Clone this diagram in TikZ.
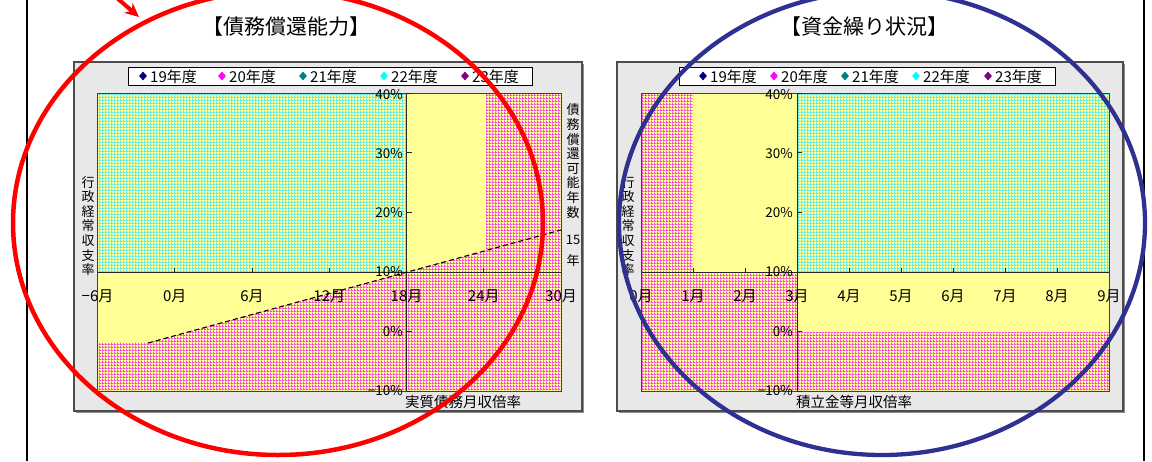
\documentclass[tikz,border=0pt]{standalone}
\usepackage{fontspec}
\newfontfamily\jp{Noto Sans CJK JP}
\usetikzlibrary{arrows.meta,shapes.geometric,patterns.meta}
\definecolor{chartyellow}{RGB}{255,255,150}
\definecolor{gridpink}{RGB}{242,70,222}
\definecolor{gridcyan}{RGB}{85,232,238}
\definecolor{boxgray}{RGB}{232,232,232}
\definecolor{circblue}{RGB}{46,49,146}
\definecolor{lgA}{RGB}{0,0,128}
\definecolor{lgB}{RGB}{255,0,255}
\definecolor{lgC}{RGB}{0,128,128}
\definecolor{lgD}{RGB}{0,255,255}
\definecolor{lgE}{RGB}{128,0,128}
\tikzdeclarepattern{
  name=chartgrid,
  type=uncolored,
  bounding box={(0pt,0pt) and (3pt,3pt)},
  tile size={(3pt,3pt)},
  code={
    \pgfpathrectangle{\pgfpoint{0pt}{0pt}}{\pgfpoint{3pt}{1pt}}
    \pgfpathrectangle{\pgfpoint{0pt}{1pt}}{\pgfpoint{1pt}{2pt}}
    \pgfusepath{fill}
  }
}
\begin{document}
\begin{tikzpicture}[x=1pt,y=-1pt,
  title/.style={font=\jp\fontsize{21}{21}\selectfont, inner sep=0},
  legtext/.style={font=\jp\fontsize{15}{15}\selectfont, inner sep=0, anchor=west},
  legmark/.style={diamond, inner sep=0, minimum width=8pt, minimum height=9pt, draw=none},
  ylab/.style={font=\jp\fontsize{13.5}{13.5}\selectfont, inner sep=0, anchor=east},
  xlab/.style={font=\jp\fontsize{15}{15}\selectfont, inner sep=0},
  vlabel/.style={font=\jp\fontsize{13}{14.6}\selectfont, inner sep=0, align=center},
  axlabel/.style={font=\jp\fontsize{14.5}{14.5}\selectfont, inner sep=0, anchor=west},
  chartbox/.style={fill=boxgray, draw=black!70, line width=1.3pt},
  legbox/.style={fill=white, draw=black, line width=0.8pt},
  plotframe/.style={draw=black!75, line width=0.8pt},
  axisline/.style={draw=black!85, line width=0.9pt},
  tickline/.style={draw=black!85, line width=0.7pt},
  pinkarea/.style={pattern=chartgrid, pattern color=gridpink},
  cyanarea/.style={pattern=chartgrid, pattern color=gridcyan},
  ]
\useasboundingbox (0,0) rectangle (1152,461);
\fill[white] (0,0) rectangle (1152,461);
% page frame lines
\draw[line width=2pt] (27,0) -- (27,461);
\draw[line width=2pt] (1144,0) -- (1144,461);
% titles
\node[title] (titleL) at (286,27) {【債務償還能力】};
\node[title] (titleR) at (864,27) {【資金繰り状況】};

% ================= LEFT CHART =================
\fill[black!45] (76,64) rectangle (584,413);
\path[chartbox] (74,62) rectangle (582,411);
\path[legbox] (128,67) rectangle (532,85);
\foreach \i/\x/\c in {19/143/lgA, 20/222/lgB, 21/303/lgC, 22/384/lgD, 23/465/lgE} {
  \node[legmark, fill=\c] (lmL\i) at (\x,76) {};
  \node[legtext] (ltL\i) at (\x+7,76.5) {\i 年度};
}
% plot regions
\fill[chartyellow] (97.5,93) rectangle (561,391);
\fill[cyanarea] (97.5,93) rectangle (406.5,272);
\fill[pinkarea] (486,93) -- (561,93) -- (561,391) -- (97.5,391) -- (97.5,343) -- (148,343) -- (486,250.5) -- cycle;
\draw[plotframe] (97.5,93) rectangle (561,391);
\draw[axisline] (97.5,272) -- (561,272);
\draw[axisline] (406.5,93) -- (406.5,391);
\foreach \y in {93,152.8,212.4,272,331.6,391} {\draw[tickline] (406.5,\y) -- (411.5,\y);}
\foreach \x in {174.75,252,329.25,483.75} {\draw[tickline] (\x,272) -- (\x,267.5);}
\coordinate (dashA) at (148,343);
\coordinate (dashB) at (561,230);
\draw[line width=1.1pt, dash pattern=on 5pt off 3pt] (dashA) -- (dashB);
% y labels
\node[ylab] (yL40) at (403,95) {40\%};
\node[ylab] (yL30) at (403,153.5) {30\%};
\node[ylab] (yL20) at (403,213) {20\%};
\node[ylab] (yL10) at (403,272) {10\%};
\node[ylab] (yL0) at (403,332) {0\%};
\node[ylab] (yLm10) at (403,391) {−10\%};
% x labels
\node[xlab] (xLa) at (97.5,296) {−6月};
\node[xlab] (xLb) at (174.75,296) {0月};
\node[xlab] (xLc) at (252,296) {6月};
\node[xlab] (xLd) at (329.25,296) {12月};
\node[xlab] (xLe) at (406.5,296) {18月};
\node[xlab] (xLf) at (483.75,296) {24月};
\node[xlab] (xLg) at (561,296) {30月};
% axis titles
\node[vlabel] (vL) at (88,226) {行\\政\\経\\常\\収\\支\\率};
\node[vlabel] (vR) at (573,161) {債\\務\\償\\還\\可\\能\\年\\数};
\node[vlabel] (vR15) at (573,240) {15};
\node[vlabel] (vRyear) at (573,261) {年};
\node[axlabel] (bL) at (405,402) {実質債務月収倍率};

% ================= RIGHT CHART =================
\fill[black!45] (619,64) rectangle (1125,413);
\path[chartbox] (617,62) rectangle (1123,411);
\path[legbox] (679,67) rectangle (1055,85);
\foreach \i/\x/\c in {19/703/lgA, 20/774/lgB, 21/845/lgC, 22/916/lgD, 23/988/lgE} {
  \node[legmark, fill=\c] (lmR\i) at (\x,76) {};
  \node[legtext] (ltR\i) at (\x+7,76.5) {\i 年度};
}
\fill[chartyellow] (641,93) rectangle (1109,391);
\fill[pinkarea] (641,93) -- (693,93) -- (693,272) -- (797,272) -- (797,332) -- (1109,332) -- (1109,391) -- (641,391) -- cycle;
\fill[cyanarea] (797,93) rectangle (1109,272);
\draw[plotframe] (641,93) rectangle (1109,391);
\draw[axisline] (641,272) -- (1109,272);
\draw[axisline] (797,93) -- (797,391);
\foreach \y in {93,152.8,212.4,272,331.6,391} {\draw[tickline] (797,\y) -- (802,\y);}
\foreach \x in {693,745,849,901,953,1005,1057} {\draw[tickline] (\x,272) -- (\x,267.5);}
\node[ylab] (yR40) at (793,95) {40\%};
\node[ylab] (yR30) at (793,153.5) {30\%};
\node[ylab] (yR20) at (793,213) {20\%};
\node[ylab] (yR10) at (793,272) {10\%};
\node[ylab] (yR0) at (793,332) {0\%};
\node[ylab] (yRm10) at (793,391) {−10\%};
\foreach \k/\x in {0/641,1/693,2/745,3/797,4/849,5/901,6/953,7/1005,8/1057,9/1109} {
  \node[xlab] (xR\k) at (\x,296) {\k 月};
}
\node[vlabel] (vL2) at (628,226) {行\\政\\経\\常\\収\\支\\率};
\node[axlabel] (bR) at (796,402) {積立金等月収倍率};

% ================= HIGHLIGHT ELLIPSES =================
\node[draw=red, line width=4.5pt, ellipse, minimum width=530pt, minimum height=464pt, inner sep=0] (redring) at (278,223) {};
\node[draw=circblue, line width=4.3pt, ellipse, minimum width=526pt, minimum height=464pt, inner sep=0] (bluering) at (882,223) {};
\coordinate (arrS) at (110,-8);
\coordinate (arrE) at (139,17);
\draw[red, line width=4pt, -{Stealth[length=14pt,width=13pt]}] (arrS) -- (arrE);
\end{tikzpicture}
\end{document}
